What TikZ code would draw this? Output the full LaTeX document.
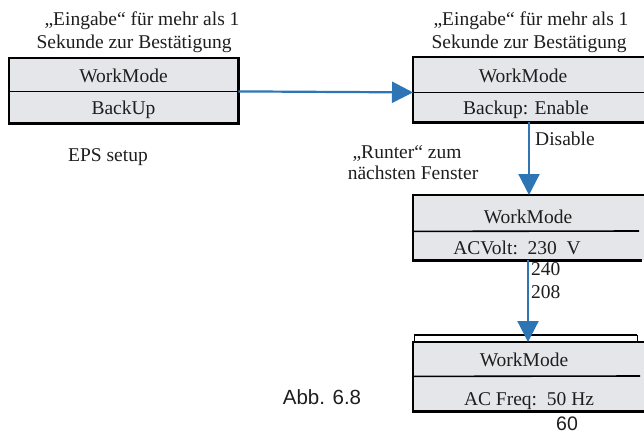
\documentclass[tikz,border=0pt]{standalone}
\usepackage{fontspec}
\setmainfont{Liberation Serif}
\newfontfamily\sansf{Liberation Sans}
\usetikzlibrary{arrows.meta}
\definecolor{cellfill}{RGB}{228,230,233}
\definecolor{arrowblue}{RGB}{46,117,182}
\definecolor{ink}{RGB}{30,30,30}
\tikzset{
  cell/.style={fill=cellfill, draw=none, inner sep=0pt, minimum width=#1, anchor=north west},
  txt/.style={inner sep=0pt, text=ink, font=\fontsize{19.5}{22}\selectfont, anchor=base},
  sanstxt/.style={inner sep=0pt, text=ink, font=\sansf\fontsize{20.5}{23}\selectfont, anchor=base},
  border/.style={draw=black, line width=2.2pt},
  divider/.style={draw=black, line width=1.6pt},
  flow/.style={draw=arrowblue, line width=2.2pt, -{Triangle[length=21pt,width=21pt]}}
}
\begin{document}
\begin{tikzpicture}[x=1pt,y=-1pt]
\useasboundingbox (0,0) rectangle (644,434);
\clip (0,0) rectangle (644,434);
\fill[white] (0,0) rectangle (644,434);

% ---- Box 1
\node[cell=229pt, minimum height=33pt] (b1a) at (9,58) {};
\node[cell=229pt, minimum height=32pt] (b1b) at (9,91) {};
\draw[border] (b1a.north west) rectangle (b1b.south east);
\draw[divider] (b1a.south west) -- (b1a.south east);
\node[txt] (t1a) at (123.5,82) {WorkMode};
\node[txt] (t1b) at (123.5,114) {BackUp};

% ---- Box 2
\node[cell=240pt, minimum height=35pt] (b2a) at (413,57) {};
\node[cell=240pt, minimum height=30pt] (b2b) at (413,92) {};
\draw[border] (b2a.north east) -- (b2a.north west) -- (b2b.south west) -- (b2b.south east);
\draw[divider] (b2a.south west) -- (b2a.south east);
\node[txt] (t2a) at (523,82) {WorkMode};
\node[txt] (t2b) at (526,114) {Backup: Enable};

% ---- Box 3
\node[cell=240pt, minimum height=36pt] (b3a) at (413,195) {};
\node[cell=240pt, minimum height=29pt] (b3b) at (413,231) {};
\draw[border] (b3a.north east) -- (b3a.north west) -- (b3b.south west) -- ([xshift=-11pt]b3b.south east);
\draw[divider] (b3a.south west) -- (639,231);
\node[txt] (t3a) at (528,223) {WorkMode};
\node[txt] (t3b) at (517,254) {ACVolt:~~230~~V};

% ---- Box 4
\coordinate (br1) at (414,335);
\coordinate (br2) at (637,335);
\draw[line width=1.8pt] (br1) -- (br2);
\draw[line width=0.8pt] (br1) -- ++(0,7) (br2) -- ++(0,7);
\node[cell=240pt, minimum height=34pt] (b4a) at (413,342) {};
\node[cell=240pt, minimum height=35pt] (b4b) at (413,376) {};
\draw[border] (b4a.north east) -- (b4a.north west) -- (b4b.south west) -- (b4b.south east);
\draw[divider] (b4a.south west) -- (640,376);
\node[txt] (t4a) at (524,366) {WorkMode};
\node[txt] (t4b) at (529,405) {AC Freq:~~50 Hz};

% ---- arrows
\coordinate (c2) at (529,0);
\coordinate (c3) at (528,0);
\draw[flow] (b1a.south east) -- (b2a.south west);
\draw[flow] (b2b.south -| c2) -- (b3a.north -| c2);
\draw[flow] (b3b.south -| c3) -- (b4a.north -| c3);

% ---- labels
\node[txt] (h1a) at (142,25) {„Eingabe“ für mehr als 1};
\node[txt] (h1b) at (134,48) {Sekunde zur Bestätigung};
\node[txt] (h2a) at (531,25) {„Eingabe“ für mehr als 1};
\node[txt] (h2b) at (529,48) {Sekunde zur Bestätigung};
\node[txt] (eps) at (108,161) {EPS setup};
\node[txt] (r1) at (407,158) {„Runter“ zum};
\node[txt] (r2) at (413,179) {nächsten Fenster};
\node[txt, anchor=base west] (dis) at (535,145) {Disable};
\node[txt, anchor=base west] (v240) at (531,275) {240};
\node[txt, anchor=base west] (v208) at (531,298) {208};
\node[sanstxt] (abb) at (322,404) {Abb. 6.8};
\node[sanstxt, font=\sansf\fontsize{19.5}{22}\selectfont] (f60) at (567,430) {60};
\end{tikzpicture}
\end{document}
